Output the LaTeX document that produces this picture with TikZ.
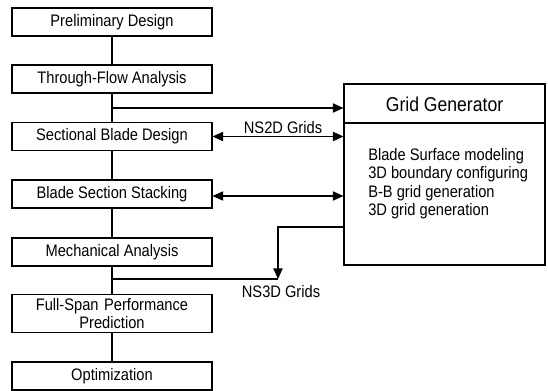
\documentclass[tikz,border=0pt]{standalone}
\usepackage{fontspec}
\setmainfont{Liberation Sans}[FakeStretch=0.88]
\usetikzlibrary{arrows.meta}

\tikzset{
  stage/.style={draw, line width=0.8pt, minimum width=150pt, minimum height=21pt, inner sep=1pt, align=center, font=\fontsize{12.5}{14}\selectfont},
  link/.style={line width=0.8pt},
  feed/.style={link, -{Triangle[length=8pt,width=7pt]}},
  swap/.style={link, {Triangle[length=8pt,width=7pt]}-{Triangle[length=8pt,width=7pt]}},
  lbl/.style={font=\fontsize{12.5}{14}\selectfont, inner sep=0.75pt}
}

\begin{document}
\begin{tikzpicture}[x=0.75pt,y=0.75pt,yscale=-1,xscale=1]
            \useasboundingbox (0,0) rectangle (548,391);

            % design stages
            \node [stage] (pre) at (112,22) {Preliminary Design};
            \node [stage] (tfa) at (112,79) {Through-Flow Analysis};
            \node [stage] (sbd) at (112,136.5) {Sectional Blade Design};
            \node [stage] (bss) at (112,194) {Blade Section Stacking};
            \node [stage] (mech) at (112,252) {Mechanical Analysis};
            \node [stage, minimum height=29pt, text width=140pt, inner sep=0pt] (fsp) at (112,313.5) {Full-Span Performance\\[-1pt]Prediction};
            \node [stage] (opt) at (112,376) {Optimization};

            % grid generator block
            \node [draw, line width=0.8pt, minimum width=150.75pt, minimum height=135.75pt, inner sep=0pt] (grid) at (444.5,174.5) {};
            \draw [link] (344,123) -- (545,123) ;
            \node [lbl, font=\fontsize{15}{17}\selectfont] (gtitle) at (444.5,104) {Grid Generator};
            \node [lbl] (task1) [anchor=west] at (367,156) {Blade Surface modeling};
            \node [lbl] (task2) [anchor=west] at (367,174.5) {3D boundary configuring};
            \node [lbl] (task3) [anchor=west] at (367,193) {B-B grid generation};
            \node [lbl] (task4) [anchor=west] at (367,211.5) {3D grid generation};

            % main flow
            \draw [link] (pre) -- (tfa) ;
            \draw [link] (tfa) -- (sbd) ;
            \draw [link] (sbd) -- (bss) ;
            \draw [link] (bss) -- (mech) ;
            \draw [link] (mech) -- (fsp) ;
            \draw [link] (fsp) -- (opt) ;

            % exchange with grid generator
            \coordinate (tap) at (112,108);
            \draw [feed] (tap) -- (tap -| grid.west) ;
            \draw [swap] (sbd.east) -- (sbd.east -| grid.west) ;
            \draw [swap] (bss.east |- 0,196) -- (grid.west |- 0,196) ;
            \node [lbl] (ns2d) at (283,128) {NS2D Grids};

            \coordinate (gout) at (344,227);
            \coordinate (drop) at (278,279);
            \coordinate (tap3) at (112,279);
            \draw [feed] (gout) -- (gout -| drop) -- (drop) ;
            \draw [link] (tap3) -- (drop) ;
            \node [lbl] (ns3d) at (281,292) {NS3D Grids};

        \end{tikzpicture}
\end{document}
